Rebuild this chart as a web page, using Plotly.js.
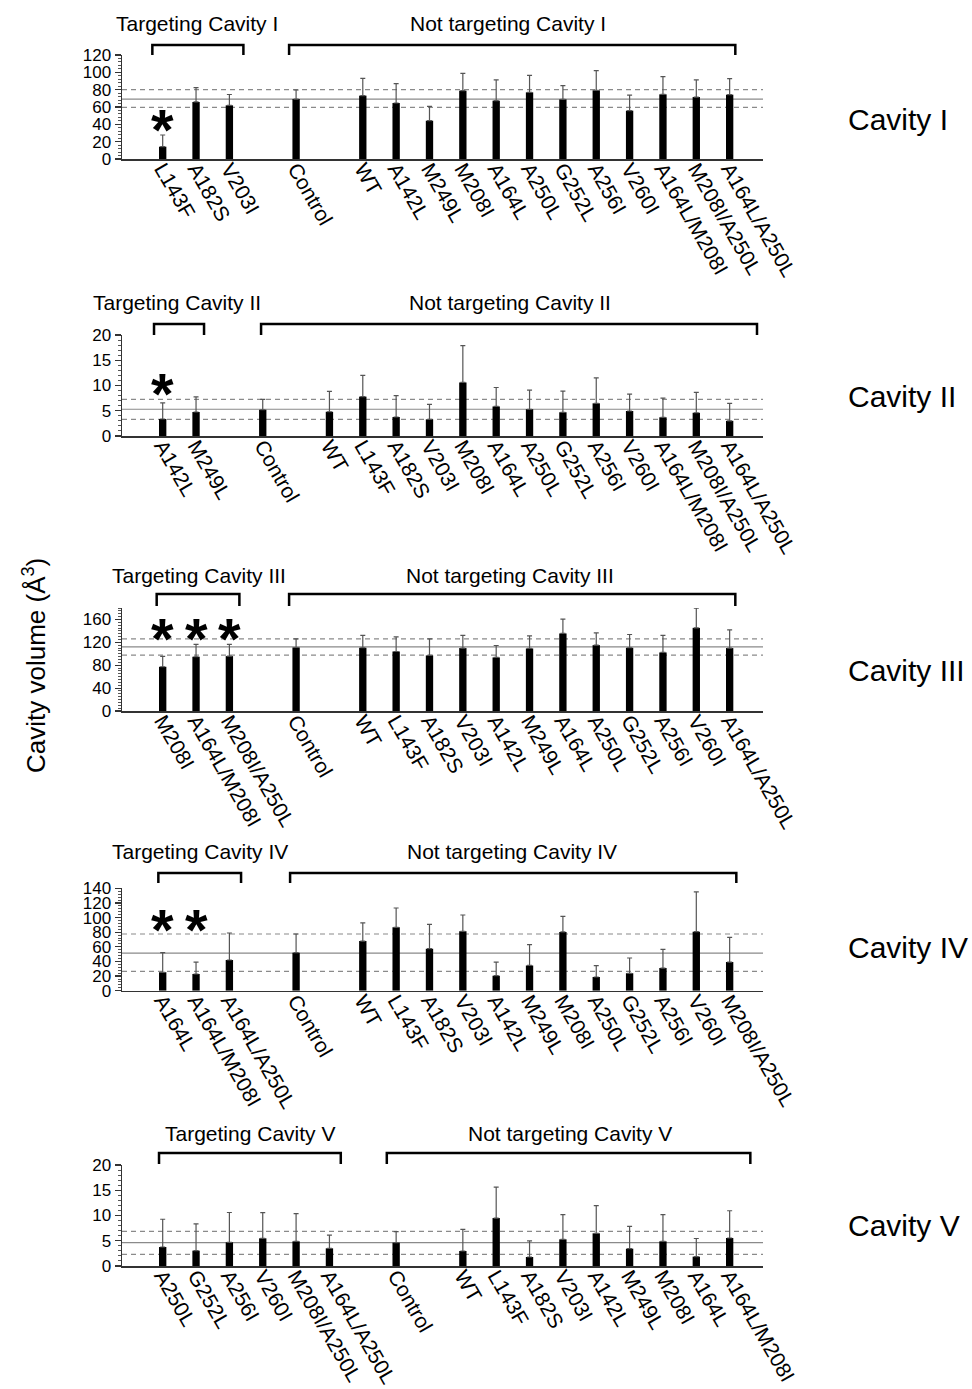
<!DOCTYPE html>
<html>
<head>
<meta charset="utf-8">
<script src="https://cdn.plot.ly/plotly-3.0.1.min.js"></script>
<style>html,body{margin:0;padding:0;background:#fff;}#chart{width:972px;height:1389px;}</style>
</head>
<body>
<div id="chart"></div>
<script>
// ---------------- DATA ----------------
const cavityNames = ['I', 'II', 'III', 'IV', 'V'];
const targetCounts = [3, 2, 3, 3, 6];

const labels1 = ['L143F','A182S','V203I','Control','WT','A142L','M249L','M208I','A164L','A250L','G252L','A256I','V260I','A164L/M208I','M208I/A250L','A164L/A250L'];
const values1 = [14.2, 65.8, 61.9, 69.2, 73.1, 64.6, 44.2, 78.8, 67.3, 76.9, 68.8, 79.2, 55.8, 74.6, 71.5, 74.2];
const sd1     = [13.5, 16.5, 12.5, 10.4, 20.0, 22.3, 16.6, 20.0, 23.9, 19.6, 15.8, 22.7, 18.0, 20.4, 19.7, 18.5];
const ref1    = [59.6, 69.2, 80.0];
const sig1    = ['L143F'];

const labels2 = ['A142L','M249L','Control','WT','L143F','A182S','V203I','M208I','A164L','A250L','G252L','A256I','V260I','A164L/M208I','M208I/A250L','A164L/A250L'];
const values2 = [3.37, 4.75, 5.2, 4.8, 7.8, 3.76, 3.3, 10.6, 5.85, 5.3, 4.7, 6.47, 4.95, 3.7, 4.6, 3.0];
const sd2     = [3.2, 3.0, 2.05, 4.05, 4.2, 4.25, 2.95, 7.3, 3.75, 3.8, 4.2, 5.05, 3.35, 3.8, 4.05, 3.45];
const ref2    = [3.3, 5.3, 7.26];
const sig2    = ['A142L'];

const labels3 = ['M208I','A164L/M208I','M208I/A250L','Control','WT','L143F','A182S','V203I','A142L','M249L','A164L','A250L','G252L','A256I','V260I','A164L/A250L'];
const values3 = [77.3, 94.8, 95.9, 111.0, 110.5, 104.0, 97.1, 110.0, 93.6, 109.3, 135.5, 115.1, 110.5, 102.3, 145.3, 110.0];
const sd3     = [18.0, 21.5, 20.4, 15.2, 21.5, 25.7, 29.1, 22.0, 20.9, 22.1, 25.0, 21.5, 23.2, 29.7, 34.4, 31.9];
const ref3    = [97.7, 112.2, 126.2];
const sig3    = ['M208I','A164L/M208I','M208I/A250L'];

const labels4 = ['A164L','A164L/M208I','A164L/A250L','Control','WT','L143F','A182S','V203I','A142L','M249L','M208I','A250L','G252L','A256I','V260I','M208I/A250L'];
const values4 = [25.1, 22.8, 42.0, 52.0, 67.9, 86.6, 57.5, 81.2, 20.5, 34.5, 80.3, 18.7, 23.7, 31.0, 80.7, 39.2];
const sd4     = [26.9, 16.4, 36.9, 25.5, 24.7, 26.5, 33.2, 22.3, 18.7, 28.4, 21.4, 15.5, 21.0, 25.5, 54.3, 33.8];
const ref4    = [26.4, 51.5, 77.5];
const sig4    = ['A164L','A164L/M208I'];

const labels5 = ['A250L','G252L','A256I','V260I','M208I/A250L','A164L/A250L','Control','WT','L143F','A182S','V203I','A142L','M249L','M208I','A164L','A164L/M208I'];
const values5 = [3.76, 3.04, 4.69, 5.48, 4.88, 3.5, 4.62, 2.97, 9.5, 1.78, 5.28, 6.47, 3.43, 4.88, 1.85, 5.54];
const sd5     = [5.5, 5.3, 5.9, 5.1, 5.5, 2.6, 2.2, 4.3, 6.1, 3.2, 4.9, 5.5, 4.4, 5.3, 3.6, 5.4];
const ref5    = [2.31, 4.62, 6.86];
const sig5    = [];

// ---------------- LAYOUT / STYLE ----------------
const W = 972, H = 1389;
const FONT = 'Liberation Sans, Arial, sans-serif';
const P = y => 1 - y / H;          // pixel-from-top -> paper fraction

const panels = [
  {labels: labels1, values: values1, sd: sd1, ref: ref1, sig: sig1, yTop: 55,  yBot: 159,  range: [0,120], dtick: 20, minor: 4,
   br: [[0.69,3.42],[4.79,18.17]], brY: [45,55],   txt: [[197,23],[508,23]],   star: 121.7, side: 120},
  {labels: labels2, values: values2, sd: sd2, ref: ref2, sig: sig2, yTop: 335, yBot: 436,  range: [0,20],  dtick: 5,  minor: 1,
   br: [[0.74,2.24],[3.95,18.82]], brY: [324,335], txt: [[177,302],[510,302]], star: 385, side: 396},
  {labels: labels3, values: values3, sd: sd3, ref: ref3, sig: sig3, yTop: 608, yBot: 711,  range: [0,180], dtick: 40, minor: 5,
   br: [[0.82,3.30],[4.79,18.17]], brY: [594,606], txt: [[199,575],[510,575]], star: 630, side: 670},
  {labels: labels4, values: values4, sd: sd4, ref: ref4, sig: sig4, yTop: 888.3, yBot: 990.7, range: [0,140], dtick: 20, minor: 4,
   br: [[0.87,3.35],[4.82,18.20]], brY: [873,883], txt: [[200,852],[512,852]], star: 921, side: 947},
  {labels: labels5, values: values5, sd: sd5, ref: ref5, sig: sig5, yTop: 1165, yBot: 1266, range: [0,20], dtick: 5, minor: 1,
   br: [[0.89,6.34],[7.72,18.62]], brY: [1153,1164], txt: [[250,1133],[570,1133]], star: 0, side: 1225}
];

function slotPositions(n, nT) {
  const pos = [];
  for (let i = 0; i < n; i++) {
    if (i < nT) pos.push(i + 1);
    else if (i === nT) pos.push(nT + 2);
    else pos.push(i + 3);
  }
  return pos;
}

const traces = [];
const layout = {
  width: W, height: H,
  margin: {l: 0, r: 0, t: 0, b: 0},
  paper_bgcolor: '#fff', plot_bgcolor: 'rgba(0,0,0,0)',
  showlegend: false,
  font: {family: FONT, color: '#000'},
  shapes: [], annotations: []
};

panels.forEach((p, k) => {
  const s = k === 0 ? '' : String(k + 1);
  const xa = 'x' + s, ya = 'y' + s;
  const pos = slotPositions(p.labels.length, targetCounts[k]);
  traces.push({
    type: 'bar', x: pos, y: p.values, xaxis: xa, yaxis: ya, width: 0.22,
    marker: {color: '#000', line: {width: 0}},
    error_y: {type: 'data', symmetric: false, array: p.sd, arrayminus: p.sd.map(() => 0),
              color: '#555', thickness: 1.2, width: 2.5},
    hoverinfo: 'x+y'
  });
  layout['xaxis' + s] = {
    domain: [122 / W, 763 / W], range: [-0.22, 19.0], anchor: ya,
    tickmode: 'array', tickvals: pos, ticktext: p.labels, tickangle: 60,
    tickfont: {family: FONT, size: 21, color: '#000'}, ticks: '', ticklabelstandoff: -12,
    showline: true, linecolor: '#333', linewidth: 1.5, showgrid: false, zeroline: false, fixedrange: true
  };
  layout['yaxis' + s] = {
    domain: [P(p.yBot), P(p.yTop)], range: p.range, anchor: xa,
    dtick: p.dtick, tick0: 0, ticks: 'outside', ticklen: 6, tickwidth: 1.2, tickcolor: '#333',
    minor: {dtick: p.minor, ticks: 'outside', ticklen: 3, tickwidth: 1, tickcolor: '#555'},
    tickfont: {family: FONT, size: 17, color: '#000'},
    showline: true, linecolor: '#333', linewidth: 1.5, showgrid: false, zeroline: false, fixedrange: true
  };
  // reference lines (control mean and mean ± SD)
  p.ref.forEach((v, j) => {
    layout.shapes.push({type: 'line', layer: 'below', xref: xa + ' domain', x0: 0, x1: 1, yref: ya, y0: v, y1: v,
      line: {color: '#8a8a8a', width: 1.2, dash: j === 1 ? 'solid' : '5px,4px'}});
  });
  // brackets
  p.br.forEach(b => {
    layout.shapes.push({type: 'path', xref: xa, yref: 'paper',
      path: `M ${b[0]},${P(p.brY[1])} L ${b[0]},${P(p.brY[0])} L ${b[1]},${P(p.brY[0])} L ${b[1]},${P(p.brY[1])}`,
      line: {color: '#000', width: 2.5}});
  });
  // group labels
  const groupNames = ['Targeting Cavity ' + cavityNames[k], 'Not targeting Cavity ' + cavityNames[k]];
  groupNames.forEach((t, j) => {
    layout.annotations.push({text: t, xref: 'paper', yref: 'paper', x: p.txt[j][0] / W, y: P(p.txt[j][1]),
      xanchor: 'center', yanchor: 'middle', showarrow: false, font: {family: FONT, size: 21, color: '#000'}});
  });
  // significance asterisks
  p.sig.forEach(lbl => {
    const i = p.labels.indexOf(lbl);
    layout.annotations.push({text: '<b>*</b>', xref: xa, yref: 'paper', x: pos[i], y: P(p.star),
      xanchor: 'center', yanchor: 'middle', yshift: -8, showarrow: false, font: {family: FONT, size: 58, color: '#000'}});
  });
  // cavity label on right
  layout.annotations.push({text: 'Cavity ' + cavityNames[k], xref: 'paper', yref: 'paper', x: 846 / W, y: P(p.side),
    xanchor: 'left', yanchor: 'middle', showarrow: false, font: {family: FONT, size: 30, color: '#000'}});
});

layout.annotations.push({text: 'Cavity volume (Å<sup>3</sup>)', xref: 'paper', yref: 'paper', x: 35 / W, y: P(666),
  xanchor: 'center', yanchor: 'middle', textangle: -90, showarrow: false, font: {family: FONT, size: 26, color: '#000'}});

Plotly.newPlot('chart', traces, layout, {displayModeBar: false, staticPlot: true});
</script>
</body>
</html>
